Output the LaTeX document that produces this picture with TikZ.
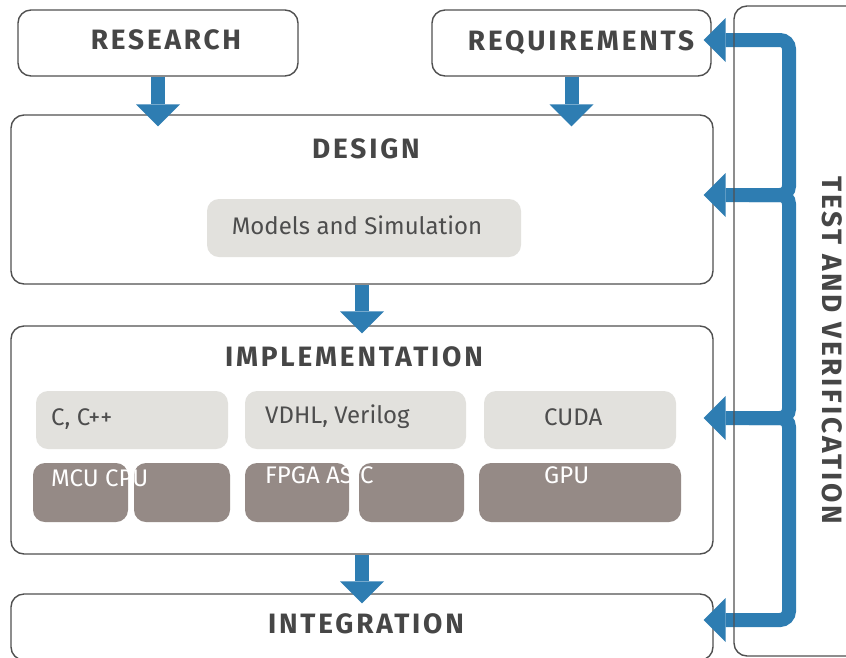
\documentclass[tikz,border=0pt]{standalone}
\usepackage{fontspec}
\setmainfont{Fira Sans}
\newfontfamily\headfont[LetterSpace=10]{Fira Sans}
\usepackage{tikz}
\usetikzlibrary{arrows.meta,shapes}
\definecolor{flowblue}{HTML}{2E7DB2}
\definecolor{linegray}{HTML}{505050}
\definecolor{headgray}{HTML}{464646}
\definecolor{textgray}{HTML}{4D4D4D}
\definecolor{toolfill}{HTML}{E2E1DD}
\definecolor{chipfill}{HTML}{958A86}
\tikzstyle{stage}=[draw=linegray,line width=1.4pt,rounded corners=13pt,fill=white]
\tikzstyle{tool}=[fill=toolfill,rounded corners=12pt]
\tikzstyle{chip}=[fill=chipfill,rounded corners=12pt]
\tikzstyle{heading}=[inner sep=0pt,text=headgray,font=\headfont\bfseries\fontsize{28}{30}\selectfont]
\tikzstyle{label}=[inner sep=0pt,text=textgray,font=\fontsize{24}{26}\selectfont]
\tikzstyle{chip label}=[inner sep=0pt,text=white,font=\fontsize{24}{26}\selectfont]
\tikzstyle{flow} = [draw=flowblue,line width=14pt,-{Triangle[width=44pt,length=22pt,line width=0pt]},shorten >=-10pt]
\tikzstyle{feedback} = [draw=flowblue,line width=14pt,rounded corners=9pt,-{Triangle[width=44pt,length=22pt,line width=0pt]},shorten >=-10pt]

\begin{document}
\begin{tikzpicture}[x=1pt,y=-1pt]
        \useasboundingbox (0,0) rectangle (846,657);
        \node[stage,minimum width=280pt,minimum height=66pt] (research) at (158,43) {};
        \node[stage,minimum width=279pt,minimum height=66pt] (requirements) at (571.5,43) {};
        \node[stage,minimum width=702pt,minimum height=169pt] (design) at (362,199.5) {};
        \node[stage,minimum width=702pt,minimum height=228pt] (impl) at (362,440) {};
        \node[stage,minimum width=702pt,minimum height=66pt] (integration) at (362,627) {};
        \node[heading,anchor=base] (researchText) at (166,49) {RESEARCH};
        \node[heading,anchor=base] (requirementsText) at (581,50) {REQUIREMENTS};
        \node[heading,anchor=base] (designText) at (366,158) {DESIGN};
        \node[heading,anchor=base] (implText) at (354,366) {IMPLEMENTATION};
        \node[heading,anchor=base] (integrationText) at (366,633) {INTEGRATION};
        \node[tool,minimum width=314pt,minimum height=58pt] (models) at (364,228) {};
        \node[label,anchor=base] (modelsText) at (357,234) {Models and Simulation};
        \node[tool,minimum width=192pt,minimum height=58pt] (ccpp) at (132,420) {};
        \node[tool,minimum width=221pt,minimum height=58pt] (hdl) at (355.5,420) {};
        \node[tool,minimum width=192pt,minimum height=58pt] (cuda) at (580,420) {};
        \node[label,anchor=base west] (ccppText) at (51,425) {C, C++};
        \node[label,anchor=base west] (hdlText) at (265,423) {VDHL, Verilog};
        \node[label,anchor=base west] (cudaText) at (544,425) {CUDA};
        \node[chip,minimum width=95pt,minimum height=59pt] (mcu) at (80.5,492.5) {};
        \node[chip,minimum width=96pt,minimum height=59pt] (cpu) at (182,492.5) {};
        \node[chip,minimum width=104pt,minimum height=59pt] (fpga) at (297,492.5) {};
        \node[chip,minimum width=105pt,minimum height=59pt] (asic) at (411.5,492.5) {};
        \node[chip,minimum width=202pt,minimum height=59pt] (gpu) at (580,492.5) {};
        \node[chip label,anchor=base west] (mcuText) at (51,486) {MCU CPU};
        \node[chip label,anchor=base west] (fpgaText) at (265,483) {FPGA ASIC};
        \node[chip label,anchor=base west] (gpuText) at (544,483) {GPU};
        \draw[flow,shorten >=-12pt] (research.south) to (research.south |- design.north);
        \draw[flow,shorten >=-12pt] (requirements.south) to (requirements.south |- design.north);
        \draw[flow,shorten >=-8pt] (design) to (impl);
        \draw[flow] (impl) to (integration);
        \coordinate (fbReq) at (789,40);
        \coordinate (fbDes) at (789,195);
        \coordinate (fbImp) at (789,418);
        \coordinate (fbInt) at (789,620);
        \draw[feedback,{Triangle[width=44pt,length=22pt,line width=0pt]}-{Triangle[width=44pt,length=22pt,line width=0pt]},shorten <=-8pt] (requirements.east |- fbReq) -- (fbReq) -- (fbDes) -- (design.east |- fbDes);
        \draw[feedback] ([xshift=-40pt]fbDes) -- (fbDes) -- (fbImp) -- (impl.east |- fbImp);
        \draw[feedback] ([xshift=-40pt]fbImp) -- (fbImp) -- (fbInt) -- (integration.east |- fbInt);
        \node[stage,fill=none,minimum width=136pt,minimum height=650pt] (test) at (802,331) {};
        \node[heading,rotate=-90] (testText) at (832,350) {TEST AND VERIFICATION};
\end{tikzpicture}
\end{document}
